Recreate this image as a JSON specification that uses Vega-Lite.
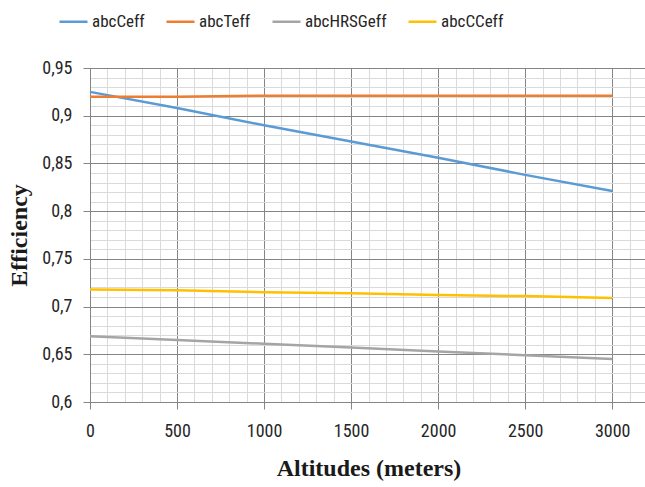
{
  "$schema": "https://vega.github.io/schema/vega-lite/v6.json",
  "autosize": {"type": "none"},
  "padding": {"left": 90, "top": 68, "right": 0, "bottom": 85},
  "width": 557,
  "height": 334,
  "background": "white",
  "config": {
    "view": {"stroke": null},
    "font": "Liberation Sans Narrow, Roboto Condensed, Arial Narrow, Roboto, Noto Sans"
  },
  "data": {
    "values": [
      {"alt": 0, "series": "abcCeff", "eff": 0.925},
      {"alt": 500, "series": "abcCeff", "eff": 0.908},
      {"alt": 1000, "series": "abcCeff", "eff": 0.890},
      {"alt": 1500, "series": "abcCeff", "eff": 0.873},
      {"alt": 2000, "series": "abcCeff", "eff": 0.856},
      {"alt": 2500, "series": "abcCeff", "eff": 0.838},
      {"alt": 3000, "series": "abcCeff", "eff": 0.821},
      {"alt": 0, "series": "abcTeff", "eff": 0.920},
      {"alt": 500, "series": "abcTeff", "eff": 0.920},
      {"alt": 1000, "series": "abcTeff", "eff": 0.921},
      {"alt": 1500, "series": "abcTeff", "eff": 0.921},
      {"alt": 2000, "series": "abcTeff", "eff": 0.921},
      {"alt": 2500, "series": "abcTeff", "eff": 0.921},
      {"alt": 3000, "series": "abcTeff", "eff": 0.921},
      {"alt": 0, "series": "abcHRSGeff", "eff": 0.669},
      {"alt": 500, "series": "abcHRSGeff", "eff": 0.665},
      {"alt": 1000, "series": "abcHRSGeff", "eff": 0.661},
      {"alt": 1500, "series": "abcHRSGeff", "eff": 0.657},
      {"alt": 2000, "series": "abcHRSGeff", "eff": 0.653},
      {"alt": 2500, "series": "abcHRSGeff", "eff": 0.649},
      {"alt": 3000, "series": "abcHRSGeff", "eff": 0.645},
      {"alt": 0, "series": "abcCCeff", "eff": 0.718},
      {"alt": 500, "series": "abcCCeff", "eff": 0.717},
      {"alt": 1000, "series": "abcCCeff", "eff": 0.715},
      {"alt": 1500, "series": "abcCCeff", "eff": 0.714},
      {"alt": 2000, "series": "abcCCeff", "eff": 0.712},
      {"alt": 2500, "series": "abcCCeff", "eff": 0.711},
      {"alt": 3000, "series": "abcCCeff", "eff": 0.709}
    ]
  },
  "layer": [
    {
      "mark": {"type": "line", "strokeOpacity": 0},
      "encoding": {
        "x": {
          "field": "alt", "type": "quantitative",
          "scale": {"domain": [0, 3200], "nice": false, "zero": false},
          "axis": {"orient": "top", "values": [0,100,200,300,400,500,600,700,800,900,1000,1100,1200,1300,1400,1500,1600,1700,1800,1900,2000,2100,2200,2300,2400,2500,2600,2700,2800,2900,3000,3100,3200],
            "grid": true, "gridColor": "#dadada", "gridWidth": 1, "labels": false, "ticks": false, "domain": false, "title": null}
        },
        "y": {
          "field": "eff", "type": "quantitative",
          "scale": {"domain": [0.6, 0.95], "nice": false, "zero": false},
          "axis": {"orient": "right", "values": [0.6,0.61,0.62,0.63,0.64,0.65,0.66,0.67,0.68,0.69,0.7,0.71,0.72,0.73,0.74,0.75,0.76,0.77,0.78,0.79,0.8,0.81,0.82,0.83,0.84,0.85,0.86,0.87,0.88,0.89,0.9,0.91,0.92,0.93,0.94,0.95],
            "grid": true, "gridColor": "#dadada", "gridWidth": 1, "labels": false, "ticks": false, "domain": false, "title": null}
        },
        "detail": {"field": "series"}
      }
    },
    {
      "mark": {"type": "line", "strokeWidth": 2.5},
      "encoding": {
        "x": {
          "field": "alt", "type": "quantitative",
          "axis": {
            "orient": "bottom",
            "values": [0, 500, 1000, 1500, 2000, 2500, 3000],
            "grid": true, "gridColor": "#858585", "gridWidth": 1,
            "domain": true, "domainColor": "#858585",
            "ticks": true, "tickColor": "#858585", "tickSize": 7,
            "labelFontSize": 18, "labelColor": "#262626", "labelPadding": 13, "labelFlush": false, "labelOverlap": false,
            "labelFont": "Liberation Sans Narrow, Roboto Condensed, Arial Narrow, Roboto, Noto Sans",
            "format": "d",
            "title": "Altitudes (meters)",
            "titleFont": "Liberation Serif", "titleFontSize": 24, "titleFontWeight": "bold",
            "titleColor": "#1a1a1a", "titlePadding": 16
          }
        },
        "y": {
          "field": "eff", "type": "quantitative",
          "axis": {
            "orient": "left",
            "values": [0.6, 0.65, 0.7, 0.75, 0.8, 0.85, 0.9, 0.95],
            "grid": true, "gridColor": "#858585", "gridWidth": 1,
            "domain": true, "domainColor": "#858585",
            "ticks": true, "tickColor": "#858585", "tickSize": 7,
            "labelFontSize": 18, "labelColor": "#262626", "labelPadding": 11, "labelFlush": false, "labelOverlap": false,
            "labelFont": "Liberation Sans Narrow, Roboto Condensed, Arial Narrow, Roboto, Noto Sans",
            "labelExpr": "replace(format(datum.value, '.2~f'), '.', ',')",
            "title": "Efficiency",
            "titleFont": "Liberation Serif", "titleFontSize": 24, "titleFontWeight": "bold",
            "titleColor": "#1a1a1a", "titlePadding": 10
          }
        },
        "color": {
          "field": "series", "type": "nominal",
          "scale": {"domain": ["abcCeff", "abcTeff", "abcHRSGeff", "abcCCeff"], "range": ["#5b9bd5", "#ed7d31", "#a5a5a5", "#ffc000"]},
          "legend": {
            "orient": "none", "legendX": -32, "legendY": -62, "direction": "horizontal",
            "title": null, "symbolType": "stroke", "symbolSize": 784, "symbolStrokeWidth": 2.5,
            "labelFontSize": 17, "labelColor": "#262626", "labelOffset": 3, "columnPadding": 16,
            "labelFont": "Liberation Sans Narrow, Roboto Condensed, Arial Narrow, Roboto, Noto Sans"
          }
        }
      }
    }
  ],
  "resolve": {"axis": {"x": "independent", "y": "independent"}}
}
